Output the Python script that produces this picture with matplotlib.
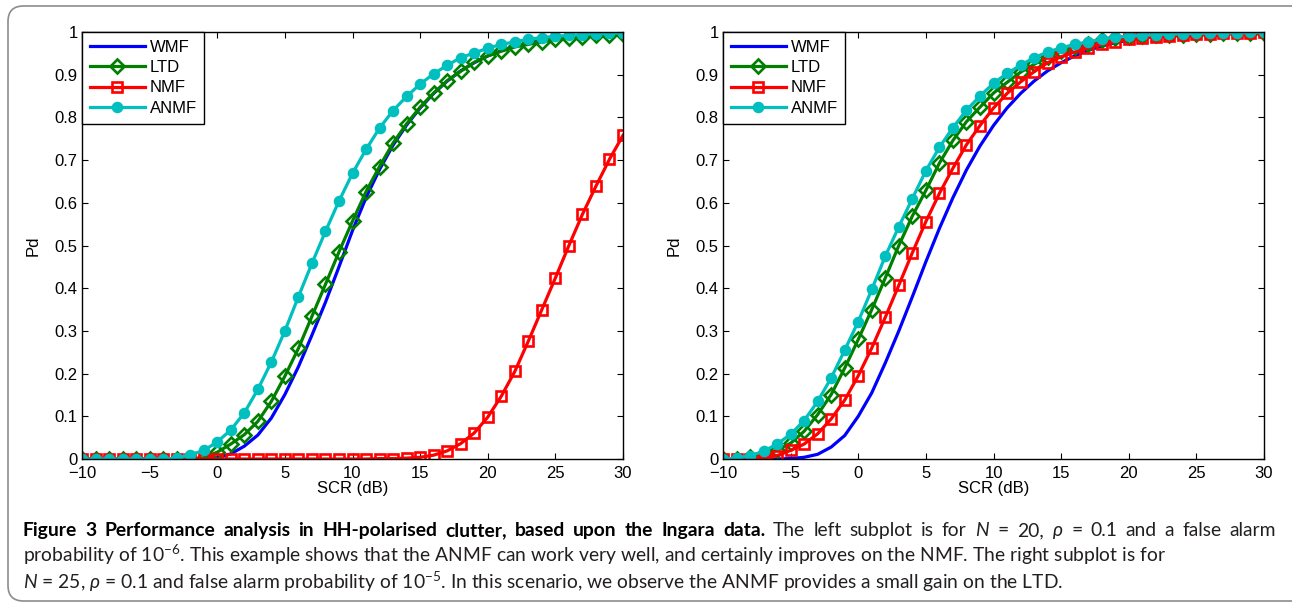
import numpy as np
import matplotlib
matplotlib.use('Agg')
import matplotlib.pyplot as plt
from matplotlib.patches import FancyBboxPatch

# SCR axis, 1 dB steps
scr = np.arange(-10, 31)

# left subplot: N = 20, rho = 0.1, Pfa = 1e-6
wmf_l = [0, 0, 0, 0, 0, 0, 0, 0, 0, 0.001, 0.003,
         0.012, 0.03, 0.056, 0.096, 0.151, 0.216, 0.29, 0.367, 0.45, 0.535,
         0.612, 0.678, 0.735, 0.782, 0.822, 0.856, 0.885, 0.909, 0.928, 0.944,
         0.956, 0.966, 0.974, 0.98, 0.985, 0.989, 0.992, 0.994, 0.996, 0.997]
ltd_l = [0, 0, 0, 0, 0, 0, 0, 0, 0, 0.003, 0.016,
         0.035, 0.057, 0.088, 0.135, 0.194, 0.259, 0.334, 0.409, 0.485, 0.557,
         0.626, 0.685, 0.74, 0.785, 0.824, 0.857, 0.886, 0.908, 0.929, 0.944,
         0.955, 0.965, 0.971, 0.977, 0.983, 0.986, 0.989, 0.992, 0.994, 0.996]
nmf_l = [0, 0, 0, 0, 0, 0, 0, 0, 0, 0, 0,
         0, 0, 0, 0, 0, 0, 0, 0, 0, 0,
         0, 0.001, 0.001, 0.002, 0.004, 0.009, 0.019, 0.036, 0.061, 0.098,
         0.147, 0.205, 0.276, 0.35, 0.424, 0.5, 0.573, 0.639, 0.702, 0.758]
anmf_l = [0, 0, 0, 0, 0, 0, 0, 0.002, 0.01, 0.02, 0.04,
          0.068, 0.108, 0.163, 0.227, 0.3, 0.38, 0.458, 0.533, 0.604, 0.669,
          0.725, 0.775, 0.816, 0.849, 0.878, 0.902, 0.922, 0.94, 0.951, 0.962,
          0.971, 0.977, 0.983, 0.987, 0.99, 0.992, 0.994, 0.996, 0.997, 0.998]

# right subplot: N = 25, rho = 0.1, Pfa = 1e-5
wmf_r = [0, 0, 0, 0, 0, 0.001, 0.004, 0.011, 0.028, 0.055, 0.1,
         0.155, 0.225, 0.3, 0.38, 0.462, 0.54, 0.612, 0.677, 0.733, 0.781,
         0.822, 0.856, 0.885, 0.909, 0.928, 0.944, 0.957, 0.967, 0.975, 0.981,
         0.986, 0.989, 0.992, 0.994, 0.996, 0.997, 0.998, 0.998, 0.999, 0.999]
ltd_r = [0, 0.001, 0.004, 0.011, 0.021, 0.037, 0.065, 0.104, 0.151, 0.213, 0.28,
         0.35, 0.424, 0.5, 0.569, 0.629, 0.693, 0.746, 0.79, 0.824, 0.857,
         0.882, 0.906, 0.924, 0.942, 0.955, 0.966, 0.973, 0.981, 0.985, 0.988,
         0.99, 0.992, 0.993, 0.994, 0.995, 0.996, 0.997, 0.997, 0.998, 0.998]
nmf_r = [0, 0, 0.001, 0.003, 0.008, 0.02, 0.035, 0.059, 0.094, 0.138, 0.195,
         0.26, 0.332, 0.407, 0.483, 0.556, 0.622, 0.681, 0.736, 0.781, 0.822,
         0.856, 0.883, 0.907, 0.928, 0.942, 0.953, 0.963, 0.971, 0.977, 0.983,
         0.986, 0.989, 0.991, 0.993, 0.995, 0.996, 0.997, 0.998, 0.998, 0.999]
anmf_r = [0, 0.002, 0.008, 0.018, 0.035, 0.058, 0.09, 0.135, 0.19, 0.255, 0.322,
          0.397, 0.475, 0.544, 0.61, 0.675, 0.73, 0.776, 0.817, 0.85, 0.88,
          0.903, 0.922, 0.94, 0.953, 0.963, 0.971, 0.977, 0.983, 0.988, 0.99,
          0.992, 0.994, 0.995, 0.996, 0.997, 0.997, 0.998, 0.998, 0.999, 0.999]

labels = ['WMF', 'LTD', 'NMF', 'ANMF']
xticks = [-10, -5, 0, 5, 10, 15, 20, 25, 30]
yticks = [0, 0.1, 0.2, 0.3, 0.4, 0.5, 0.6, 0.7, 0.8, 0.9, 1]
ytick_labels = ['0', '0.1', '0.2', '0.3', '0.4', '0.5', '0.6', '0.7', '0.8', '0.9', '1']

plt.rcParams['font.family'] = ['Liberation Sans', 'DejaVu Sans']
plt.rcParams['axes.unicode_minus'] = True
plt.rcParams['mathtext.fontset'] = 'custom'
plt.rcParams['mathtext.it'] = 'Lato:italic'
plt.rcParams['mathtext.rm'] = 'Lato'

W, H = 1292, 608
fig = plt.figure(figsize=(W / 100, H / 100), dpi=100)

# outer rounded frame
frame = FancyBboxPatch((8 / W, 7 / H), 1.2, 1 - 13 / H,
                       boxstyle='round,pad=0,rounding_size=0.012',
                       transform=fig.transFigure, fill=False,
                       edgecolor='#8c8c8c', linewidth=1.2, mutation_aspect=W / H)
fig.patches.append(frame)

fs = 12


def make_axes(x0, x1, data):
    ax = fig.add_axes([x0 / W, 1 - 459 / H, (x1 - x0) / W, (459 - 32) / H])
    wmf, ltd, nmf, anmf = data
    ax.plot(scr, wmf, color='#0000ff', lw=2.3, label=labels[0])
    ax.plot(scr, ltd, color='#007f00', lw=2.3, marker='D', ms=7.3,
            mfc='none', mec='#007f00', mew=1.9, label=labels[1])
    ax.plot(scr, nmf, color='#ff0000', lw=2.3, marker='s', ms=7.3,
            mfc='none', mec='#ff0000', mew=1.9, label=labels[2])
    ax.plot(scr, anmf, color='#00bfbf', lw=2.3, marker='o', ms=7.3,
            mfc='#00bfbf', mec='#00bfbf', label=labels[3])
    ax.set_xlim(-10, 30)
    ax.set_ylim(0, 1)
    ax.set_xticks(xticks)
    ax.set_yticks(yticks)
    ax.set_yticklabels(ytick_labels)
    ax.tick_params(direction='in', top=True, right=True, length=4,
                   width=0.8, labelsize=fs)
    ax.tick_params(axis='x', pad=5)
    ax.tick_params(axis='y', pad=3)
    for s in ax.spines.values():
        s.set_linewidth(1.0)
    ax.set_xlabel('SCR (dB)', fontsize=fs, labelpad=0)
    ax.set_ylabel('Pd', fontsize=fs, labelpad=10)
    leg = ax.legend(loc='upper left', fontsize=fs, handlelength=3.3,
                    borderaxespad=0, borderpad=0.45, labelspacing=0.33,
                    handletextpad=0.3, fancybox=False, framealpha=1)
    leg.get_frame().set_edgecolor('black')
    leg.get_frame().set_linewidth(1.0)
    return ax


make_axes(82, 623, (wmf_l, ltd_l, nmf_l, anmf_l))
make_axes(723, 1264, (wmf_r, ltd_r, nmf_r, anmf_r))

# caption
cap_font = ['Lato', 'DejaVu Sans']
bold_txt = 'Figure 3 Performance analysis in HH-polarised clutter, based upon the Ingara data.'
line1 = r'The left subplot is for $N$ = 20, $\rho$ = 0.1 and a false alarm'
line2 = r'probability of 10$^{-6}$. This example shows that the ANMF can work very well, and certainly improves on the NMF. The right subplot is for'
line3 = r'$N$ = 25, $\rho$ = 0.1 and false alarm probability of 10$^{-5}$. In this scenario, we observe the ANMF provides a small gain on the LTD.'
x0, x_end = 23, 1276
cs = 13.9
renderer = fig.canvas.get_renderer()

# first line is justified to the full width, word by word
words = [(w, 'bold', 'black') for w in bold_txt.split(' ')] + \
        [(w, 'normal', '#231f20') for w in line1.split(' ')]
texts = []
for w, wt, col in words:
    t = fig.text(0, 1 - 536 / H, w, fontsize=cs, fontweight=wt,
                 family=cap_font, color=col)
    texts.append(t)
widths = [t.get_window_extent(renderer).width for t in texts]
gap = (x_end - x0 - sum(widths)) / (len(texts) - 1)
xpos = x0
for t, wd in zip(texts, widths):
    t.set_x(xpos / W)
    xpos += wd + gap

fig.text(x0 / W, 1 - 562 / H, line2, fontsize=cs, family=cap_font,
         color='#231f20')
fig.text(x0 / W, 1 - 589 / H, line3, fontsize=cs, family=cap_font,
         color='#231f20')

fig.savefig('out.png', dpi=100)
